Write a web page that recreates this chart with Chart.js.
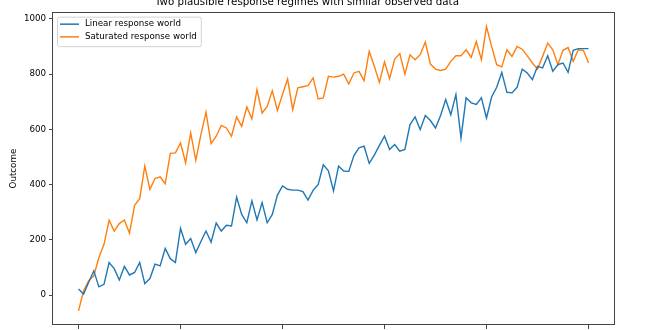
<!DOCTYPE html>
<html>
<head>
<meta charset="utf-8">
<script src="https://cdn.jsdelivr.net/npm/chart.js@4.4.1/dist/chart.umd.min.js"></script>
<style>
  html, body { margin: 0; padding: 0; overflow: hidden; background: #fff; }
  #wrap { position: relative; width: 660px; height: 330px; overflow: hidden; }
  #chart { position: absolute; left: 0; top: -10px; }
</style>
</head>
<body>
<div id="wrap"><canvas id="chart" width="660" height="360"></canvas></div>
<script>
// x positions (time steps 0..100)
const steps = Array.from({ length: 101 }, (_, i) => i);

// Linear response world
const linear = [
  22, 4, 47, 88, 30, 39, 118, 96, 55, 104,
  73, 82, 118, 42, 60, 112, 106, 169, 132, 118,
  242, 184, 205, 154, 194, 232, 192, 261, 232, 253,
  250, 355, 292, 262, 341, 272, 335, 262, 292, 362,
  395, 383, 380, 380, 375, 344, 379, 401, 472, 450,
  377, 467, 449, 448, 505, 533, 539, 477, 507, 542,
  575, 527, 545, 521, 527, 617, 645, 599, 650, 632,
  605, 650, 708, 653, 726, 569, 714, 696, 690, 714,
  641, 717, 752, 806, 734, 732, 752, 818, 804, 780,
  828, 822, 866, 810, 834, 840, 806, 886, 892, 892,
  892
];

// Saturated response world
const saturated = [
  -57, 16, 52, 70, 136, 184, 271, 232, 259, 272,
  224, 325, 349, 467, 383, 422, 428, 403, 513, 515,
  551, 479, 587, 488, 581, 662, 548, 575, 614, 605,
  575, 645, 611, 681, 638, 744, 659, 683, 740, 668,
  726, 782, 671, 750, 754, 758, 786, 710, 714, 792,
  789, 792, 800, 764, 804, 810, 776, 882, 828, 770,
  844, 783, 854, 874, 800, 870, 852, 870, 916, 836,
  818, 813, 818, 846, 866, 866, 888, 860, 918, 852,
  972, 900, 834, 826, 888, 864, 900, 890, 866, 840,
  818, 864, 912, 888, 834, 886, 896, 846, 888, 886,
  840
];

const xTicks = [0, 20, 40, 60, 80, 100];
const yTicks = [0, 200, 400, 600, 800, 1000];

Chart.defaults.font.family = '"DejaVu Sans", sans-serif';
Chart.defaults.color = '#000';

// matplotlib style box around the axes
const spines = {
  id: 'spines',
  afterDraw(chart) {
    const { ctx, chartArea: a } = chart;
    ctx.save();
    ctx.strokeStyle = '#444';
    ctx.lineWidth = 1;
    ctx.strokeRect(Math.round(a.left) - 0.5, Math.round(a.top) + 0.5,
      Math.round(a.right - a.left) + 1, Math.round(a.bottom - a.top) - 1);
    ctx.restore();
  }
};

// legend inside the upper left corner
const boxLegend = {
  id: 'boxLegend',
  afterDraw(chart) {
    const { ctx, chartArea } = chart;
    const sets = chart.data.datasets;
    ctx.save();
    ctx.font = '8.7px "DejaVu Sans"';
    const widest = Math.max(...sets.map(d => ctx.measureText(d.label).width));
    const x = chartArea.left + 4, y = chartArea.top + 4.5;
    const w = 28 + widest + 4, h = 29.5;
    ctx.beginPath();
    ctx.roundRect(x + 0.5, y + 0.5, w, h, 2);
    ctx.fillStyle = 'rgba(255,255,255,0.8)';
    ctx.fill();
    ctx.strokeStyle = '#d3d3d3';
    ctx.lineWidth = 1;
    ctx.stroke();
    sets.forEach((d, i) => {
      const ry = y + 7.5 + i * 12.7;
      ctx.strokeStyle = d.borderColor;
      ctx.lineWidth = 1.5;
      ctx.beginPath();
      ctx.moveTo(x + 3, ry);
      ctx.lineTo(x + 22, ry);
      ctx.stroke();
      ctx.fillStyle = '#000';
      ctx.textBaseline = 'middle';
      ctx.fillText(d.label, x + 28, ry);
    });
    ctx.restore();
  }
};

const ctx = document.getElementById('chart').getContext('2d');

new Chart(ctx, {
  type: 'line',
  data: {
    datasets: [{
      label: 'Linear response world',
      data: linear.map((v, i) => ({ x: steps[i], y: v })),
      borderColor: '#1f77b4',
      borderWidth: 1.4,
      pointRadius: 0,
      tension: 0,
      fill: false
    }, {
      label: 'Saturated response world',
      data: saturated.map((v, i) => ({ x: steps[i], y: v })),
      borderColor: '#ff7f0e',
      borderWidth: 1.4,
      pointRadius: 0,
      tension: 0,
      fill: false
    }]
  },
  options: {
    responsive: false,
    animation: false,
    layout: { padding: { left: 0, right: 46, top: 0, bottom: 0 } },
    scales: {
      x: {
        type: 'linear',
        min: -5,
        max: 105,
        afterFit: (scale) => { scale.height = 25; },
        afterBuildTicks: (scale) => { scale.ticks = xTicks.map(v => ({ value: v })); },
        border: { display: false },
        grid: { display: true, drawOnChartArea: false, drawTicks: true, tickLength: 4, color: '#444' },
        ticks: { font: { size: 8.7 }, padding: 3, maxRotation: 0, callback: (v) => String(v) }
      },
      y: {
        min: -108,
        max: 1024,
        afterFit: (scale) => { scale.width = 53; },
        afterBuildTicks: (scale) => { scale.ticks = yTicks.map(v => ({ value: v })); },
        border: { display: false },
        grid: { display: true, drawOnChartArea: false, drawTicks: true, tickLength: 4, color: '#444' },
        ticks: { font: { size: 8.7 }, padding: 3, callback: (v) => String(v) },
        title: {
          display: true,
          text: 'Outcome',
          font: { size: 8.7 },
          padding: { top: 9, bottom: 0 }
        }
      }
    },
    plugins: {
      legend: { display: false },
      tooltip: { enabled: false },
      title: {
        display: true,
        text: 'Two plausible response regimes with similar observed data',
        font: { size: 10.3, weight: 'normal' },
        color: '#000',
        padding: { top: 6.5, bottom: 3.3 }
      }
    }
  },
  plugins: [spines, boxLegend]
});
</script>
</body>
</html>
